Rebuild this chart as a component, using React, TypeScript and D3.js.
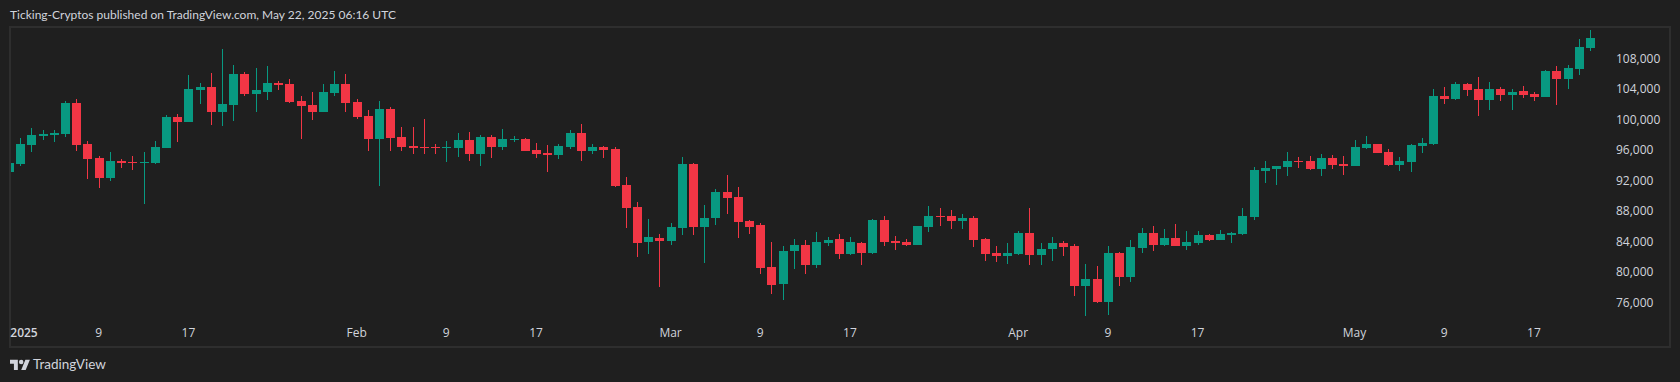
import React from "react";
import * as d3 from "d3";

const opens = [93100,94150,96640,97820,97960,98090,102160,96770,94940,92310,94540,94410,94280,94280,96250,100320,99660,103860,104260,100980,101890,105970,103340,103600,104780,104650,102420,101890,100980,103470,104650,102290,100450,97430,101370,97690,96510,96380,96380,96250,96250,97300,95460,97690,96380,97300,97430,95990,95590,95330,96380,98220,95860,96380,96120,91390,88500,83910,84430,84040,85750,94150,85880,87060,90470,89820,86660,86140,80620,78390,82730,83510,80890,83780,84300,82330,83780,82460,86800,84040,83910,83510,85880,87320,87320,86660,87060,84300,82460,82070,82330,85090,82200,82990,83780,83380,78130,79050,76030,82460,79310,83120,85090,83510,84430,83380,83780,84830,84170,84830,84960,87190,93230,93490,93750,94540,94540,93490,94940,94150,93890,96250,96770,95720,94020,94410,96510,96770,103080,102680,104650,104000,102550,104000,103210,103730,103340,102940,106360,105310,106620,109380];
const highs = [94280,97560,98880,98610,98610,102420,102680,97170,95200,95720,94800,95200,95720,97170,100580,100710,105830,104780,106100,109250,107150,106230,106750,107010,105050,105310,103080,103600,104650,106360,105970,102680,101240,102420,101630,99010,99010,100060,96770,97170,98220,98350,97960,97960,98740,97820,97560,96910,96640,96770,98610,99400,96770,96510,96380,92440,89160,86930,84960,86400,95070,94280,88760,90870,92700,91130,86800,86400,83910,83380,84300,84170,85220,84560,84960,84560,83910,86930,87320,84690,84300,86010,88630,88370,88110,87580,87320,84430,83380,83780,85350,88370,83780,84560,84040,83640,81020,80760,83380,82590,84170,85750,86010,85610,86270,85350,85350,84960,85480,85220,88370,93750,94540,93890,95720,95070,95200,95460,95330,95200,97300,97820,96770,96120,95070,96770,97560,104000,104260,104910,104780,105570,104910,104260,104000,104390,103600,106490,107010,107150,110560,111740];
const lows = [93100,93890,95720,97300,97040,97690,95860,92180,91000,91920,93620,93360,88900,94150,96250,97040,99660,102030,99270,99140,99790,103080,100980,102550,103860,102160,97430,99930,100980,103080,100980,100060,95860,91260,95860,95860,95460,95460,95460,94410,95070,94540,93890,94940,95990,97040,95860,94940,93100,94800,96120,94540,95460,94940,91130,85750,81940,82330,78000,83510,84830,84830,81150,86140,87580,84430,84960,79710,77080,76290,80360,79710,80490,83380,81670,82200,80890,82330,83380,82860,83380,83510,85220,86010,85610,85610,83250,81410,81280,81020,82200,80890,80890,81410,82070,76820,74190,75900,74320,78130,78650,82460,82730,83380,83380,82860,83510,84040,84170,83780,84830,86800,91650,91390,92570,93620,93360,92570,93490,92700,93890,96120,95590,93890,93230,93100,95590,96640,102030,102550,103080,100450,101240,102420,101240,102810,102420,102940,101890,104000,105830,108980];
const closes = [94280,96770,97960,98090,98220,102160,96640,94800,92310,94540,94280,94280,94410,96380,100320,99660,104000,104260,100980,102030,105970,103340,103860,104780,104520,102290,101760,100980,103600,104650,102160,100320,97430,101370,97560,96380,96250,96250,96250,96380,97300,95460,97690,96380,97430,97430,95860,95460,95330,96510,98220,95860,96380,95990,91260,88370,83780,84560,84040,85880,94150,85880,87060,90470,89680,86530,85880,80490,78260,82730,83510,80890,83910,84170,82330,83910,82460,86800,83910,83780,83510,86010,87320,87190,86660,87060,84170,82330,82070,82460,85090,82200,82990,83780,83250,78130,79050,76030,82460,79310,83250,85090,83510,84430,83380,83910,84830,84170,84960,85090,87320,93360,93620,93890,94540,94410,93490,94940,94020,93890,96380,96770,95590,94020,94540,96640,96910,103080,102680,104650,103860,102550,104000,103210,103600,103210,102940,106360,105310,106750,109510,110690];

const tickIndex = [0, 8, 16, 31, 39, 47, 59, 67, 75, 90, 98, 106, 120, 128, 136];
const tickText = ["2025", "9", "17", "Feb", "9", "17", "Mar", "9", "17", "Apr", "9", "17", "May", "9", "17"];
const priceTicks = [76000, 80000, 84000, 88000, 92000, 96000, 100000, 104000, 108000];

const UP = "#089981";
const DOWN = "#F23645";
const BG = "#1f1f1f";
const BORDER = "#2e2e2e";
const TXT = "#d1d4dc";
const FONT = "'Open Sans', 'Noto Sans', sans-serif";
const TITLE_FONT = "Lato, 'Open Sans', sans-serif";

const W = 1680, H = 382;
const pane = { left: 11, right: 1669, top: 28, bottom: 346 };
const x = d3.scaleLinear().domain([0, 141]).range([9, 1590.03]);
const y = d3.scaleLinear().domain([76000, 108000]).range([302.22, 58.5]);
const fmt = d3.format(",");

export default function App() {
  React.useEffect(() => {
    document.body.style.margin = "0";
    document.body.style.background = BG;
  }, []);
  return (
    <svg width={W} height={H} style={{ display: "block", position: "fixed", left: 0, top: 0 }} shapeRendering="crispEdges">
      <defs>
        <clipPath id="pane">
          <rect x={pane.left} y={pane.top} width={pane.right - pane.left} height={pane.bottom - pane.top} />
        </clipPath>
      </defs>
      <rect width={W} height={H} fill={BG} />
      <text x={10} y={19} fontFamily={TITLE_FONT} fontSize={12} fill={TXT} shapeRendering="auto">
        Ticking-Cryptos published on TradingView.com, May 22, 2025 06:16 UTC
      </text>
      <g clipPath="url(#pane)">
        {opens.map((o, i) => {
          const c = closes[i];
          const col = c >= o ? UP : DOWN;
          const cx = Math.round(x(i));
          const bt = Math.round(y(Math.max(o, c)));
          const bb = Math.round(y(Math.min(o, c)));
          const wt = Math.round(y(highs[i]));
          const wb = Math.round(y(lows[i]));
          return (
            <g key={i} fill={col}>
              <rect x={cx} y={wt} width={1} height={wb - wt} />
              <rect x={cx - 4} y={bt} width={9} height={Math.max(1, bb - bt)} />
            </g>
          );
        })}
      </g>
      <rect x={10} y={27} width={1660} height={320} fill="none" stroke={BORDER} strokeWidth={2} />
      {tickIndex.map((ti, i) => (
        <text
          key={i}
          x={ti === 0 ? 24 : x(ti)}
          y={337}
          textAnchor="middle"
          fontFamily={FONT}
          fontSize={12}
          fontWeight={tickText[i] === "2025" ? 600 : 400}
          fill={TXT}
          shapeRendering="auto"
        >
          {tickText[i]}
        </text>
      ))}
      {priceTicks.map((p) => (
        <text key={p} x={1616} y={y(p) + 4.5} fontFamily={FONT} fontSize={12} fill={TXT} shapeRendering="auto">
          {fmt(p)}
        </text>
      ))}
      <g transform="translate(10,357.6) scale(0.56)" fill={TXT} shapeRendering="auto">
        <path d="M14 22H7V11H0V4h14v18zM28 22h-8l7.5-18h8L28 22z" />
        <circle cx={20} cy={8} r={4} />
      </g>
      <text x={33} y={369} fontFamily={TITLE_FONT} fontSize={13.5} fill={TXT} shapeRendering="auto">
        TradingView
      </text>
    </svg>
  );
}
